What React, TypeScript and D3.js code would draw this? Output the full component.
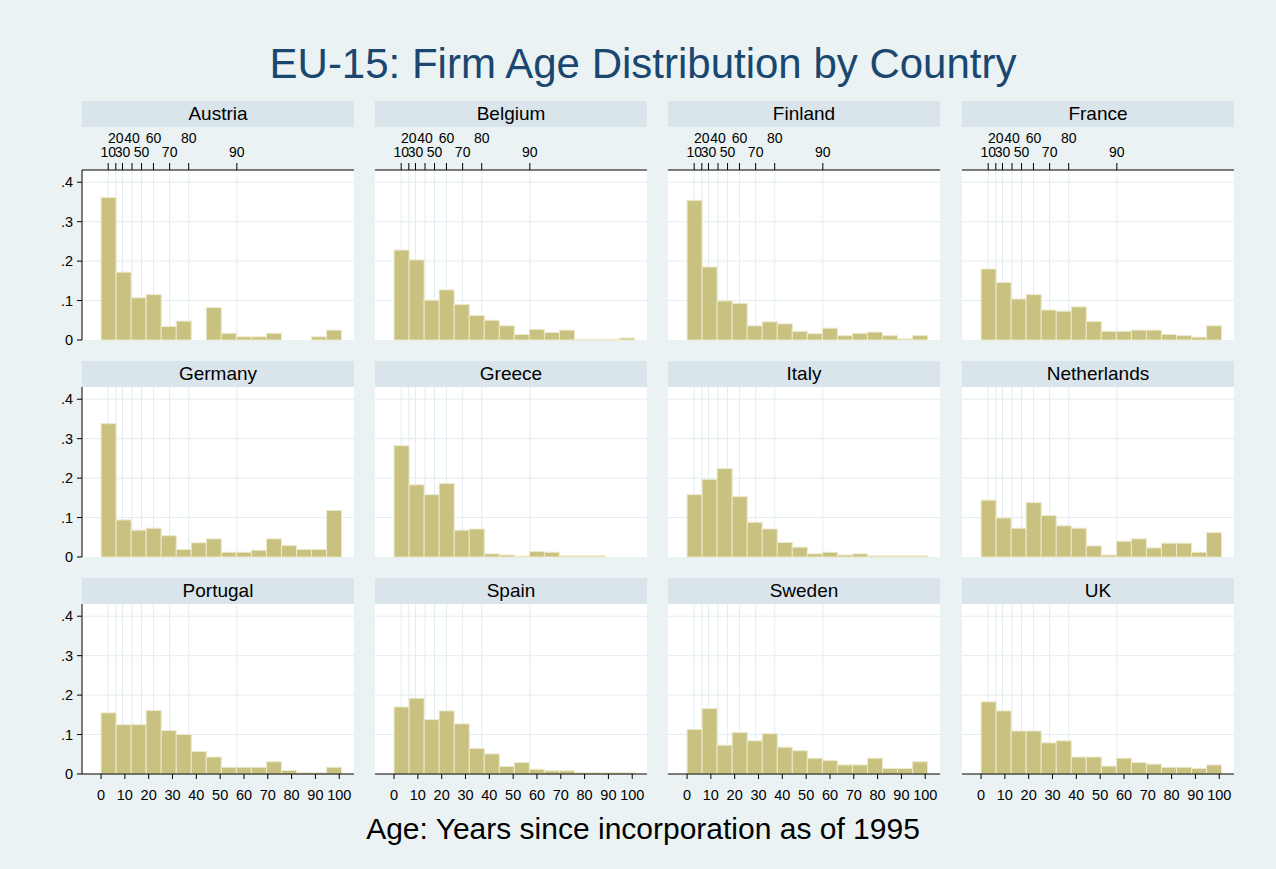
import React, { useEffect } from "react";
import * as d3 from "d3";

const countries = ["Austria", "Belgium", "Finland", "France", "Germany", "Greece", "Italy", "Netherlands", "Portugal", "Spain", "Sweden", "UK"];

const austria = [0.361, 0.172, 0.107, 0.115, 0.034, 0.048, 0, 0.082, 0.017, 0.008, 0.008, 0.017, 0, 0, 0.008, 0.025];
const belgium = [0.228, 0.203, 0.101, 0.127, 0.090, 0.062, 0.050, 0.036, 0.014, 0.027, 0.019, 0.025, 0.002, 0.002, 0.002, 0.005];
const finland = [0.354, 0.185, 0.099, 0.093, 0.036, 0.046, 0.041, 0.022, 0.016, 0.030, 0.011, 0.017, 0.020, 0.011, 0.003, 0.011];
const france = [0.180, 0.146, 0.104, 0.115, 0.076, 0.073, 0.084, 0.047, 0.022, 0.022, 0.025, 0.025, 0.014, 0.011, 0.007, 0.036];
const germany = [0.338, 0.094, 0.068, 0.073, 0.054, 0.019, 0.036, 0.046, 0.012, 0.012, 0.017, 0.046, 0.029, 0.019, 0.019, 0.118];
const greece = [0.282, 0.183, 0.158, 0.186, 0.068, 0.071, 0.008, 0.005, 0.002, 0.014, 0.012, 0.003, 0.003, 0.003, 0, 0];
const italy = [0.158, 0.197, 0.224, 0.153, 0.088, 0.071, 0.037, 0.025, 0.008, 0.012, 0.005, 0.008, 0.003, 0.003, 0.003, 0.003];
const netherlands = [0.144, 0.099, 0.073, 0.138, 0.105, 0.079, 0.073, 0.028, 0.005, 0.040, 0.046, 0.023, 0.035, 0.035, 0.012, 0.062];
const portugal = [0.155, 0.125, 0.125, 0.161, 0.110, 0.100, 0.057, 0.043, 0.017, 0.017, 0.017, 0.031, 0.009, 0.003, 0.003, 0.017];
const spain = [0.170, 0.192, 0.138, 0.160, 0.127, 0.065, 0.051, 0.019, 0.029, 0.012, 0.008, 0.008, 0.003, 0.003, 0.003, 0.003];
const sweden = [0.113, 0.166, 0.073, 0.105, 0.084, 0.102, 0.068, 0.059, 0.040, 0.034, 0.023, 0.023, 0.040, 0.014, 0.014, 0.031];
const uk = [0.183, 0.160, 0.109, 0.109, 0.079, 0.084, 0.043, 0.043, 0.020, 0.040, 0.029, 0.025, 0.017, 0.017, 0.014, 0.023];

const series = [austria, belgium, finland, france, germany, greece, italy, netherlands, portugal, spain, sweden, uk];

// histogram bins: start and width (years)
const binStart = 0;
const binWidth = 6.3125;

// decile markers (top axis), positions in years, labels
const decileValues = [3, 6.2, 9, 13, 17, 22, 28.8, 36.8, 57];
const decileLabels = ["10", "20", "30", "40", "50", "60", "70", "80", "90"];

const yTicks = [0, 0.1, 0.2, 0.3, 0.4];
const yTickLabels = ["0", ".1", ".2", ".3", ".4"];
const xTicks = [0, 10, 20, 30, 40, 50, 60, 70, 80, 90, 100];

const FONT = "'Liberation Sans', Arial, Helvetica, sans-serif";

export default function App() {
  useEffect(() => {
    document.body.style.margin = "0";
  }, []);

  const W = 1276, H = 869;
  const panelW = 272;
  const plotH = 170;
  const colX = [82, 375, 668, 962];
  const plotTop = [170, 387, 604];
  const stripTop = [101, 361, 578];
  const stripH = 26;

  const x = d3.scaleLinear().domain([-8, 106.2]).range([0, panelW]);
  const y = d3.scaleLinear().domain([0, 0.431]).range([plotH, 0]);

  const barFill = "#C9C17F";
  const barStroke = "#ECE9CC";
  const gridColor = "#E3EDF0";

  return (
    <svg width={W} height={H} style={{ display: "block" }} fontFamily={FONT}>
      <rect x={0} y={0} width={W} height={H} fill="#EAF2F3" />
      <text x={643} y={78} textAnchor="middle" fontSize={42} fill="#1A476F">
        EU-15: Firm Age Distribution by Country
      </text>
      {countries.map((name, i) => {
        const r = Math.floor(i / 4);
        const c = i % 4;
        const px = colX[c];
        const py = plotTop[r];
        const vals = series[i];
        return (
          <g key={name}>
            <rect x={px} y={stripTop[r]} width={panelW} height={stripH} fill="#D9E5EB" />
            <text x={px + panelW / 2} y={stripTop[r] + 19} textAnchor="middle" fontSize={19} fill="#000">
              {name}
            </text>
            <g transform={`translate(${px},${py})`}>
              <rect x={0} y={0} width={panelW} height={plotH} fill="#fff" />
              {yTicks.filter((t) => t > 0).map((t) => (
                <line key={"h" + t} x1={0} x2={panelW} y1={y(t)} y2={y(t)} stroke={gridColor} strokeWidth={1} />
              ))}
              {decileValues.map((v, k) => (
                <line key={"v" + k} x1={x(v)} x2={x(v)} y1={0} y2={plotH} stroke={gridColor} strokeWidth={1} />
              ))}
              {vals.map((v, k) =>
                v > 0 ? (
                  <rect
                    key={k}
                    x={x(binStart + k * binWidth)}
                    y={y(v)}
                    width={x(binStart + (k + 1) * binWidth) - x(binStart + k * binWidth)}
                    height={y(0) - y(v)}
                    fill={barFill}
                    stroke={barStroke}
                    strokeWidth={1}
                  />
                ) : null
              )}
              {r === 0 && (
                <g>
                  <line x1={0} x2={panelW} y1={0} y2={0} stroke="#000" strokeWidth={1} />
                  {decileValues.map((v, k) => (
                    <g key={"t" + k}>
                      <line x1={x(v)} x2={x(v)} y1={0} y2={-7} stroke="#000" strokeWidth={1} />
                      <text x={x(v)} y={k % 2 === 0 ? -13 : -27} textAnchor="middle" fontSize={14} fill="#000">
                        {decileLabels[k]}
                      </text>
                    </g>
                  ))}
                </g>
              )}
              {c === 0 && (
                <g>
                  <line x1={0} x2={0} y1={0} y2={plotH} stroke="#000" strokeWidth={1} />
                  {yTicks.map((t, k) => (
                    <g key={"y" + k}>
                      <line x1={-5} x2={0} y1={y(t)} y2={y(t)} stroke="#000" strokeWidth={1} />
                      <text x={-9} y={y(t) + 5} textAnchor="end" fontSize={14.5} fill="#000">
                        {yTickLabels[k]}
                      </text>
                    </g>
                  ))}
                </g>
              )}
              {r === 2 && (
                <g>
                  <line x1={0} x2={panelW} y1={plotH} y2={plotH} stroke="#000" strokeWidth={1} />
                  {xTicks.map((t) => (
                    <g key={"x" + t}>
                      <line x1={x(t)} x2={x(t)} y1={plotH} y2={plotH + 5} stroke="#000" strokeWidth={1} />
                      <text x={x(t)} y={plotH + 26} textAnchor="middle" fontSize={14.5} fill="#000">
                        {t}
                      </text>
                    </g>
                  ))}
                </g>
              )}
            </g>
          </g>
        );
      })}
      <text x={643} y={839} textAnchor="middle" fontSize={30} fill="#000">
        Age: Years since incorporation as of 1995
      </text>
    </svg>
  );
}
